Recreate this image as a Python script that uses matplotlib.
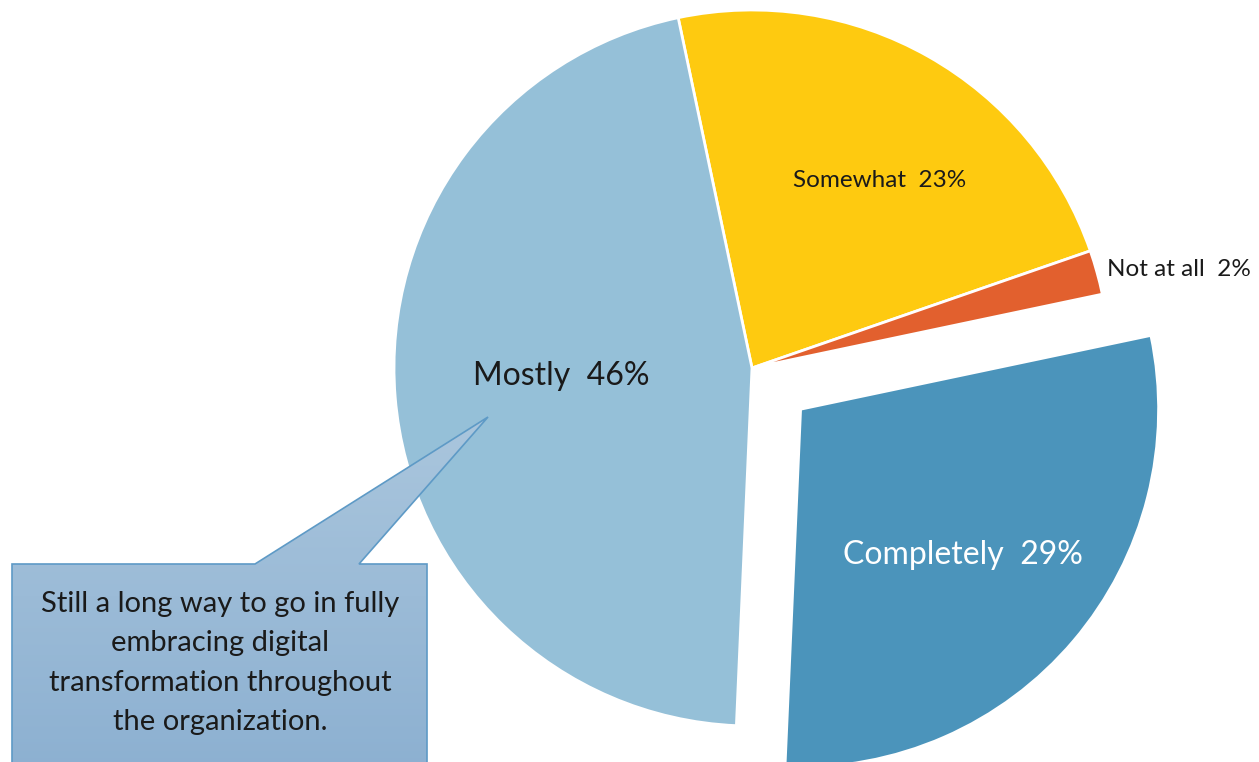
import matplotlib
matplotlib.use('Agg')
import matplotlib.pyplot as plt
import numpy as np
from matplotlib.patches import Polygon
from matplotlib.colors import LinearSegmentedColormap

categories = ['Somewhat', 'Not at all', 'Completely', 'Mostly']
values = [23, 2, 29, 46]
colors = ['#FECA10', '#E2602E', '#4B94BB', '#95C0D8']
explode = [0, 0, 0.178, 0]
label_colors = ['#1a1a1a', '#1a1a1a', 'white', '#1a1a1a']
label_sizes = [17.5, 17.5, 23, 23]
label_frac = [0.634, 1.03, 0.61, 0.533]
label_dangle = [-4.8, 0, -1.6, -2.3]
label_ha = ['center', 'left', 'center', 'center']
callout_text = "Still a long way to go in fully\nembracing digital\ntransformation throughout\nthe organization."

plt.rcParams['font.family'] = ['Lato', 'DejaVu Sans']

W, H = 1259, 762
fig = plt.figure(figsize=(W / 100, H / 100), dpi=100)
ax = fig.add_axes([0, 0, 1, 1])

cx, cy, R = 752, H - 368, 358
wedges, _ = ax.pie(values, colors=colors, explode=[e * R for e in explode],
                   startangle=101.9, counterclock=False, center=(cx, cy),
                   radius=R, wedgeprops=dict(edgecolor='white', linewidth=2))

for w, cat, v, col, fs, fr, da, ha in zip(wedges, categories, values,
                                          label_colors, label_sizes,
                                          label_frac, label_dangle, label_ha):
    th = np.deg2rad((w.theta1 + w.theta2) / 2 + da)
    x0, y0 = w.center
    ax.text(x0 + fr * R * np.cos(th), y0 + fr * R * np.sin(th),
            f"{cat}  {v}%", ha=ha, va='center', color=col, fontsize=fs)

# callout shape
pts = [(12, H - 775), (12, H - 564), (255, H - 564), (488, H - 417),
       (359, H - 564), (427, H - 564), (427, H - 775)]
poly = Polygon(pts, closed=True, facecolor='none', edgecolor='#5E9AC6',
               linewidth=1.2, zorder=5)
ax.add_patch(poly)
cmap = LinearSegmentedColormap.from_list('g', ['#8CB0D1', '#AAC6DD'])
grad = np.linspace(0, 1, 256).reshape(-1, 1)
im = ax.imshow(grad, cmap=cmap, extent=(12, 488, H - 775, H - 417),
               origin='lower', aspect='auto', zorder=4)
im.set_clip_path(poly)

ax.text(220, H - 663, callout_text, ha='center', va='center', fontsize=21,
        color='#1a1a1a', linespacing=1.62, zorder=6)

ax.set_xlim(0, W)
ax.set_ylim(0, H)
ax.set_aspect('equal')
ax.axis('off')
fig.savefig('out.png', dpi=100)
